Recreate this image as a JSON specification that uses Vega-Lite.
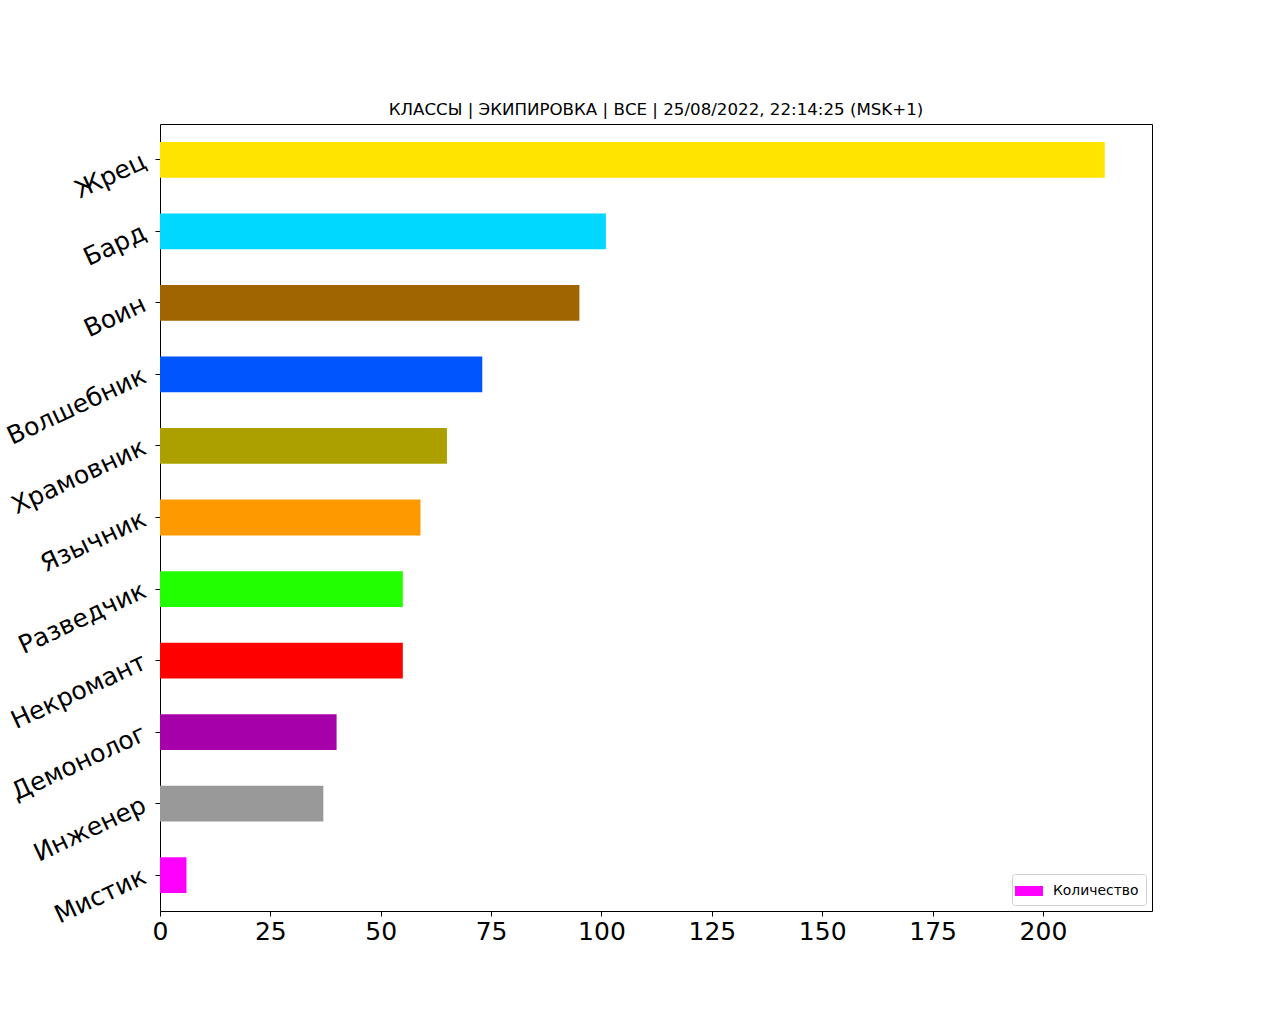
{
  "$schema": "https://vega.github.io/schema/vega-lite/v6.json",
  "autosize": "none",
  "width": 992,
  "height": 787,
  "padding": {"left": 160, "top": 124, "right": 128, "bottom": 113},
  "background": "white",
  "title": {
    "text": "КЛАССЫ | ЭКИПИРОВКА | ВСЕ | 25/08/2022, 22:14:25 (MSK+1)",
    "font": "DejaVu Sans",
    "fontSize": 16.67,
    "fontWeight": "normal",
    "color": "black",
    "offset": 5,
    "anchor": "middle"
  },
  "config": {
    "font": "DejaVu Sans",
    "view": {"stroke": "black", "strokeWidth": 1},
    "axis": {"grid": false, "domainColor": "black", "tickColor": "black", "labelColor": "black", "labelFont": "DejaVu Sans", "labelFontSize": 25, "tickSize": 5, "domain": false}
  },
  "datasets": {
    "classes": [
      {"class": "Жрец", "count": 214},
      {"class": "Бард", "count": 101},
      {"class": "Воин", "count": 95},
      {"class": "Волшебник", "count": 73},
      {"class": "Храмовник", "count": 65},
      {"class": "Язычник", "count": 59},
      {"class": "Разведчик", "count": 55},
      {"class": "Некромант", "count": 55},
      {"class": "Демонолог", "count": 40},
      {"class": "Инженер", "count": 37},
      {"class": "Мистик", "count": 6}
    ],
    "legend": [{"series": "Количество", "count": 0, "class": "Мистик"}]
  },
  "layer": [
    {
      "data": {"name": "classes"},
      "mark": {"type": "bar"},
      "encoding": {
        "y": {
          "field": "class", "type": "nominal", "sort": null,
          "scale": {"paddingInner": 0.5, "paddingOuter": 0.25},
          "axis": {"title": null, "labelAngle": -25, "labelAlign": "right", "labelBaseline": "middle", "labelPadding": 11, "labelLimit": 300}
        },
        "x": {
          "field": "count", "type": "quantitative",
          "scale": {"domain": [0, 224.7], "nice": false, "zero": true},
          "axis": {"title": null, "values": [0, 25, 50, 75, 100, 125, 150, 175, 200], "labelPadding": 3, "labelFlush": false}
        },
        "color": {
          "field": "class", "type": "nominal",
          "scale": {
            "domain": ["Жрец", "Бард", "Воин", "Волшебник", "Храмовник", "Язычник", "Разведчик", "Некромант", "Демонолог", "Инженер", "Мистик"],
            "range": ["#ffe400", "#00d8ff", "#a06400", "#0055ff", "#aca000", "#ff9900", "#22ff00", "#ff0000", "#a500aa", "#999999", "#ff00ff"]
          },
          "legend": null
        }
      }
    },
    {
      "data": {"name": "legend"},
      "mark": {"type": "point", "opacity": 0, "filled": true},
      "encoding": {
        "y": {"field": "class", "type": "nominal", "sort": null},
        "x": {"field": "count", "type": "quantitative"},
        "fill": {
          "field": "series", "type": "nominal",
          "scale": {"domain": ["Количество"], "range": ["#ff00ff"]},
          "legend": {
            "title": null,
            "orient": "bottom-right",
            "offset": 6,
            "symbolType": "M-1.4,-0.5H1.4V0.5H-1.4Z",
            "symbolSize": 400,
            "symbolOpacity": 1,
            "symbolStrokeWidth": 0,
            "labelFont": "DejaVu Sans",
            "labelFontSize": 13.9,
            "labelColor": "black",
            "labelOffset": 14,
            "strokeColor": "#d0d0d0",
            "fillColor": "white",
            "cornerRadius": 3,
            "padding": 7
          }
        }
      }
    }
  ],
  "resolve": {"scale": {"color": "independent", "fill": "independent"}}
}
